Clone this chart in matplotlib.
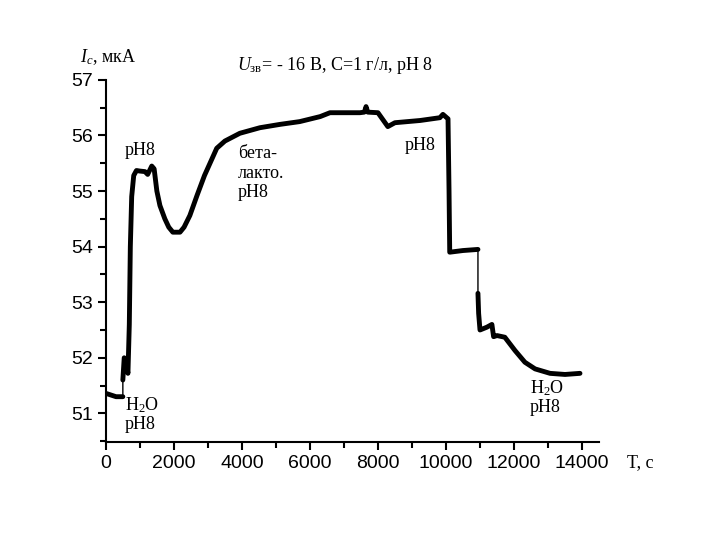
import numpy as np
import matplotlib
matplotlib.use("Agg")
import matplotlib.pyplot as plt

plt.rcParams['mathtext.fontset'] = 'custom'
plt.rcParams['mathtext.rm'] = 'Liberation Serif'
plt.rcParams['mathtext.it'] = 'Liberation Serif:italic'

# time (s) and current (uA)
t = [0, 150, 300, 500, 500, 540, 580, 650, 690, 720, 760, 820, 900, 1000, 1150, 1230,
     1350, 1420, 1500, 1590, 1735, 1850, 1970, 2180, 2300, 2470, 2680, 2900, 3260,
     3500, 3940, 4530, 5120, 5700, 6300, 6590, 7000, 7470, 7600, 7650, 7700, 8000,
     8290, 8500, 9240, 9820, 9910, 10060, 10090, 10110, 10500, 10940, 10940, 10960,
     11000, 11200, 11350, 11400, 11500, 11730, 12030, 12320, 12620, 13060, 13500, 13940]
i = [51.36, 51.33, 51.3, 51.3, 51.6, 52.0, 51.95, 51.72, 52.6, 54.0, 54.9, 55.28,
     55.37, 55.36, 55.35, 55.3, 55.45, 55.4, 55.0, 54.74, 54.5, 54.35, 54.26, 54.26,
     54.35, 54.56, 54.92, 55.28, 55.77, 55.9, 56.04, 56.14, 56.2, 56.25, 56.34,
     56.41, 56.41, 56.41, 56.42, 56.52, 56.42, 56.41, 56.16, 56.23, 56.27, 56.32,
     56.38, 56.3, 55.0, 53.9, 53.93, 53.95, 53.16, 52.8, 52.5, 52.55, 52.6, 52.38,
     52.4, 52.37, 52.13, 51.92, 51.8, 51.72, 51.7, 51.72]
thin_after = [3, 51]  # segments drawn as thin connectors

x_ticks = [0, 2000, 4000, 6000, 8000, 10000, 12000, 14000]
y_ticks = [51, 52, 53, 54, 55, 56, 57]

fig = plt.figure(figsize=(7.2, 5.4), dpi=100)
ax = fig.add_axes([0.147, 0.181, 0.685, 0.671])

ax.plot(t, i, color='black', lw=1)
start = 0
for k in thin_after + [len(t) - 1]:
    ax.plot(t[start:k + 1], i[start:k + 1], color='black', lw=3.5,
            solid_joinstyle='round', solid_capstyle='round')
    start = k + 1

ax.set_xlim(0, 14500)
ax.set_ylim(50.48, 57)
ax.set_xticks(x_ticks)
ax.set_yticks(y_ticks)
ax.set_xticks(np.arange(1000, 14500, 2000), minor=True)
ax.set_yticks(np.arange(50.5, 57, 1.0), minor=True)
ax.tick_params(which='both', direction='out', width=1.5, labelsize=14)
ax.tick_params(which='major', length=6)
ax.tick_params(which='minor', length=4)
for lab in ax.get_xticklabels() + ax.get_yticklabels():
    lab.set_family('Liberation Sans')
for s in ['top', 'right']:
    ax.spines[s].set_visible(False)
for s in ['left', 'bottom']:
    ax.spines[s].set_linewidth(1.5)
ax.spines['left'].set_bounds(50.48, 57)

serif = dict(family='Liberation Serif', fontsize=13, color='black')
ax.text(560, 55.73, 'pH8', ha='left', va='center', **serif)
ax.text(3880, 55.32, 'бета-\nлакто.\npH8', ha='left', va='center', linespacing=1.2, **serif)
ax.text(8800, 55.82, 'pH8', ha='left', va='center', **serif)
ax.text(560, 50.98, 'H$_2$O\npH8', ha='left', va='center', linespacing=1.1, **serif)
ax.text(12470, 51.29, 'H$_2$O\npH8', ha='left', va='center', linespacing=1.1, **serif)

fig.text(80 / 720, 1 - 57 / 540, '$I_c$, мкА', ha='left', va='center', **serif)
fig.text(335 / 720, 1 - 65 / 540, '$U_{\\rm зв}$= - 16 В, С=1 г/л, рН 8',
         ha='center', va='center', **serif)
fig.text(627 / 720, 1 - 463 / 540, 'T, с', ha='left', va='center', **serif)

fig.savefig('out.png', dpi=100)
